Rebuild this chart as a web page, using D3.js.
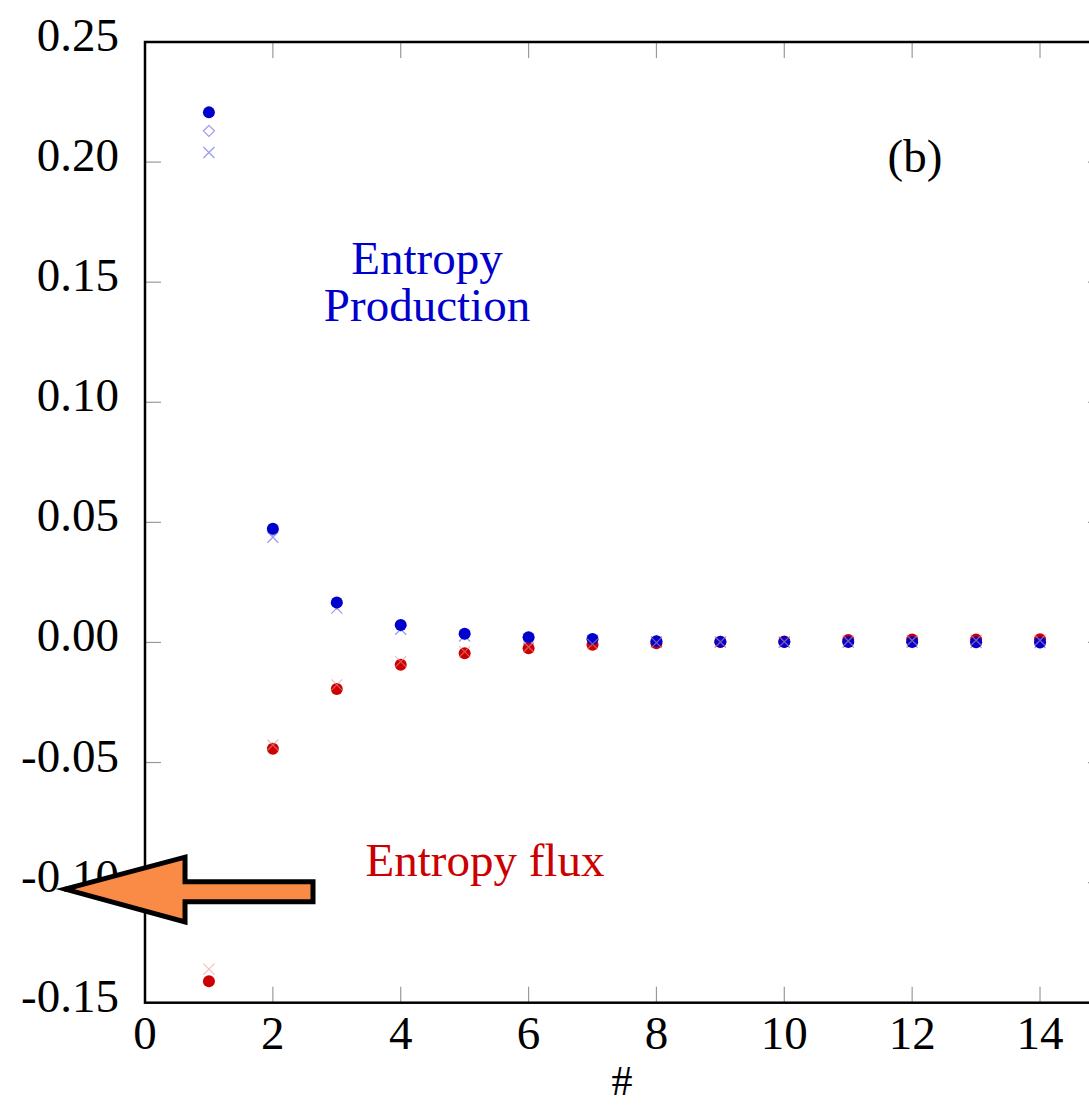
<!DOCTYPE html>
<html>
<head>
<meta charset="utf-8">
<script src="https://cdn.jsdelivr.net/npm/d3@7"></script>
<style>
  html, body { margin: 0; padding: 0; background: #fff; overflow: hidden; }
  svg { display: block; }
  text { font-family: "Liberation Serif", "Times New Roman", serif; }
</style>
</head>
<body>
<svg id="chart" width="1089" height="1105"></svg>
<script>
// Step index
const steps = [1, 2, 3, 4, 5, 6, 7, 8, 9, 10, 11, 12, 13, 14];

// Entropy production (filled circles) and two approximations (diamonds, crosses)
const productionMain    = [0.2207, 0.0473, 0.0166, 0.0073, 0.0036, 0.0022, 0.0014, 0.0005, 0.0003, 0.0002, 0.0002, 0.0002, 0.0001, 0.0000];
const productionDiamond = [0.2130, 0.0468, 0.0162, 0.0070, 0.0034, 0.0020, 0.0012, 0.0005, 0.0003, 0.0002, 0.0002, 0.0001, 0.0001, 0.0000];
const productionCross   = [0.2040, 0.0438, 0.0143, 0.0055, 0.0027, 0.0015, 0.0008, 0.0003, 0.0001, 0.0000, 0.0000, 0.0000, -0.0001, -0.0001];

// Entropy flux (filled circles) and its approximation (crosses)
const fluxMain  = [-0.1411, -0.0443, -0.0194, -0.0093, -0.0045, -0.0024, -0.0010, -0.0003, 0.0002, 0.0004, 0.0010, 0.0012, 0.0012, 0.0013];
const fluxCross = [-0.1360, -0.0427, -0.0177, -0.0080, -0.0038, -0.0019, -0.0007, -0.0001, 0.0002, 0.0003, 0.0006, 0.0008, 0.0009, 0.0009];

// Axis ticks
const xTicks = [0, 2, 4, 6, 8, 10, 12, 14];
const yTicks = [-0.15, -0.10, -0.05, 0.00, 0.05, 0.10, 0.15, 0.20, 0.25];

// Pointer arrow outline, in data units (x, y)
const arrowShape = [
  [-1.25, -0.1027], [0.626, -0.0894], [0.626, -0.0996], [2.628, -0.0996],
  [2.628, -0.1080], [0.626, -0.1080], [0.626, -0.1164]
];

const blue = "#0000cc", red = "#cc0000";
const lightBlue = "#9a9aee", lightRed = "#e89494";

const svg = d3.select("#chart");
const plotLeft = 145, plotTop = 42, plotBottom = 1002.7;
const x = d3.scaleLinear().domain([0, 15]).range([plotLeft, plotLeft + 15 * 63.93]);
const y = d3.scaleLinear().domain([-0.15, 0.25]).range([plotBottom, plotTop]);
const plotRight = x(15);
const tickLen = 16;

// Inner grey ticks on all four sides
const g = svg.append("g");
const tickColor = "#9a9a9a";
xTicks.filter(t => t > 0).forEach(t => {
  g.append("line").attr("x1", x(t)).attr("x2", x(t)).attr("y1", plotBottom).attr("y2", plotBottom - tickLen)
    .attr("stroke", tickColor).attr("stroke-width", 1.2);
  g.append("line").attr("x1", x(t)).attr("x2", x(t)).attr("y1", plotTop).attr("y2", plotTop + tickLen)
    .attr("stroke", tickColor).attr("stroke-width", 1.2);
});
yTicks.filter(t => t > -0.15 && t < 0.25).forEach(t => {
  g.append("line").attr("x1", plotLeft).attr("x2", plotLeft + tickLen).attr("y1", y(t)).attr("y2", y(t))
    .attr("stroke", tickColor).attr("stroke-width", 1.2);
  g.append("line").attr("x1", plotRight).attr("x2", plotRight - tickLen).attr("y1", y(t)).attr("y2", y(t))
    .attr("stroke", tickColor).attr("stroke-width", 1.2);
});

// Frame
svg.append("rect").attr("x", plotLeft).attr("y", plotTop)
  .attr("width", plotRight - plotLeft).attr("height", plotBottom - plotTop)
  .attr("fill", "none").attr("stroke", "#000").attr("stroke-width", 2.5);

// Tick labels (plain hyphen for negatives)
svg.append("g").selectAll("text").data(yTicks).join("text")
  .attr("x", 119).attr("y", d => y(d) + 9)
  .attr("text-anchor", "end").attr("font-size", 47).attr("fill", "#000")
  .text(d => d.toFixed(2).replace("-0.00", "0.00"));

svg.append("g").selectAll("text").data(xTicks).join("text")
  .attr("x", d => x(d)).attr("y", 1049)
  .attr("text-anchor", "middle").attr("font-size", 47).attr("fill", "#000")
  .text(d => d);

svg.append("text").attr("x", 622).attr("y", 1095).attr("text-anchor", "middle")
  .attr("font-size", 42).attr("fill", "#000").text("#");

// Markers
const plot = svg.append("g");
const circles = (vals, color) => plot.append("g").selectAll("circle").data(steps).join("circle")
  .attr("cx", (d) => x(d)).attr("cy", (d, i) => y(vals[i])).attr("r", 6).attr("fill", color);
const crosses = (vals, color, op) => plot.append("g").attr("opacity", op).selectAll("path").data(steps).join("path")
  .attr("d", (d, i) => {
    const cx = x(d), cy = y(vals[i]), s = 5.5;
    return `M${cx - s},${cy - s}L${cx + s},${cy + s}M${cx - s},${cy + s}L${cx + s},${cy - s}`;
  })
  .attr("stroke", color).attr("stroke-width", 1.2).attr("fill", "none");
const diamonds = (vals, color) => plot.append("g").selectAll("path").data(steps).join("path")
  .attr("d", (d, i) => {
    const cx = x(d), cy = y(vals[i]), s = 5.5;
    return `M${cx},${cy - s}L${cx + s},${cy}L${cx},${cy + s}L${cx - s},${cy}Z`;
  })
  .attr("stroke", color).attr("stroke-width", 1.2).attr("fill", "none");

diamonds(productionDiamond, lightBlue);
crosses(productionCross, lightBlue, 1);
circles(fluxMain, red);
circles(productionMain, blue);
crosses(fluxCross, lightRed, 0.6);

// Annotations
svg.append("text").attr("x", 427).attr("y", 274).attr("text-anchor", "middle")
  .attr("font-size", 47).attr("fill", blue).text("Entropy");
svg.append("text").attr("x", 427).attr("y", 321).attr("text-anchor", "middle")
  .attr("font-size", 47).attr("fill", blue).text("Production");
svg.append("text").attr("x", 485).attr("y", 876).attr("text-anchor", "middle")
  .attr("font-size", 47).attr("fill", red).text("Entropy flux");
svg.append("text").attr("x", 915).attr("y", 172).attr("text-anchor", "middle")
  .attr("font-size", 47).attr("fill", "#000").text("(b)");

// Arrow pointing at the -0.10 level
svg.append("path")
  .attr("d", d3.line().x(p => x(p[0])).y(p => y(p[1])).curve(d3.curveLinearClosed)(arrowShape))
  .attr("fill", "#f98b47").attr("stroke", "#000").attr("stroke-width", 5)
  .attr("stroke-linejoin", "miter");
</script>
</body>
</html>
